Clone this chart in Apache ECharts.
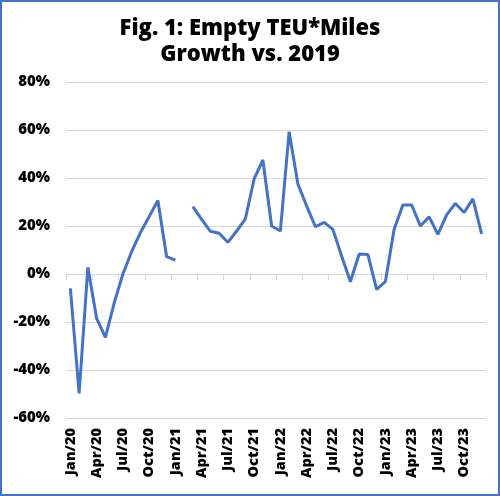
<!DOCTYPE html>
<html>
<head>
<meta charset="utf-8">
<script src="https://cdn.jsdelivr.net/npm/echarts@6/dist/echarts.min.js"></script>
<style>
html,body{margin:0;padding:0;background:#fff;}
#wrap{position:relative;width:500px;height:496px;}
#chart{position:absolute;left:0;top:0;width:500px;height:496px;}
#frame{position:absolute;left:0;top:0;width:500px;height:496px;box-sizing:border-box;border:2px solid #4472C4;pointer-events:none;}
</style>
</head>
<body>
<div id="wrap"><div id="chart"></div><div id="frame"></div></div>
<script>
const titleText = 'Fig. 1: Empty TEU*Miles\nGrowth vs. 2019';
const months = [
 'Jan/20','Feb/20','Mar/20','Apr/20','May/20','Jun/20','Jul/20','Aug/20','Sep/20','Oct/20','Nov/20','Dec/20',
 'Jan/21','Feb/21','Mar/21','Apr/21','May/21','Jun/21','Jul/21','Aug/21','Sep/21','Oct/21','Nov/21','Dec/21',
 'Jan/22','Feb/22','Mar/22','Apr/22','May/22','Jun/22','Jul/22','Aug/22','Sep/22','Oct/22','Nov/22','Dec/22',
 'Jan/23','Feb/23','Mar/23','Apr/23','May/23','Jun/23','Jul/23','Aug/23','Sep/23','Oct/23','Nov/23','Dec/23'
];
const growthPct = [
 -6.0, -49.7, 2.8, -18.5, -26.4, -12.2, 0.0, 9.3, 17.2, 23.9, 30.6, 7.2,
 5.8, null, 28.1, 22.8, 17.8, 17.0, 13.2, 17.9, 23.0, 39.6, 47.5, 20.0,
 17.9, 59.3, 37.5, 28.4, 19.7, 21.5, 18.6, 7.5, -3.2, 8.3, 8.1, -6.4,
 -3.2, 18.6, 28.8, 28.8, 20.0, 23.8, 16.5, 24.6, 29.4, 25.6, 31.3, 16.7
];
const yMin = -60, yMax = 80, yStep = 20;

const font = '"Open Sans", "DejaVu Sans", sans-serif';
const chart = echarts.init(document.getElementById('chart'));
chart.setOption({
  animation: false,
  backgroundColor: '#fff',
  title: {
    text: titleText,
    left: 'center',
    top: 11,
    textStyle: {fontFamily: font, fontSize: 22, fontWeight: 800, color: '#000', lineHeight: 26}
  },
  grid: {left: 66, right: 14, top: 82, bottom: 78, containLabel: false},
  xAxis: [
    {
      type: 'category', data: months, boundaryGap: true,
      axisLine: {onZero: true, lineStyle: {color: '#d9d9d9', width: 1}},
      axisTick: {show: true, interval: 2, length: 6, lineStyle: {color: '#d9d9d9'}},
      axisLabel: {show: false}
    },
    {
      type: 'category', data: months, boundaryGap: true, position: 'bottom',
      axisLine: {show: false, onZero: false},
      axisTick: {show: false},
      axisLabel: {interval: 2, rotate: 90, margin: 10, fontFamily: font, fontSize: 14.5, fontWeight: 800, color: '#000'}
    }
  ],
  yAxis: {
    type: 'value', min: yMin, max: yMax, interval: yStep,
    axisLine: {show: false}, axisTick: {show: false},
    splitLine: {lineStyle: {color: '#d9d9d9', width: 1}},
    axisLabel: {formatter: '{value}%', margin: 16, fontFamily: font, fontSize: 15, fontWeight: 800, color: '#000'}
  },
  series: [{
    type: 'line', data: growthPct, xAxisIndex: 0,
    showSymbol: false, connectNulls: false,
    lineStyle: {color: '#4472C4', width: 3},
    itemStyle: {color: '#4472C4'}
  }]
});
</script>
</body>
</html>
